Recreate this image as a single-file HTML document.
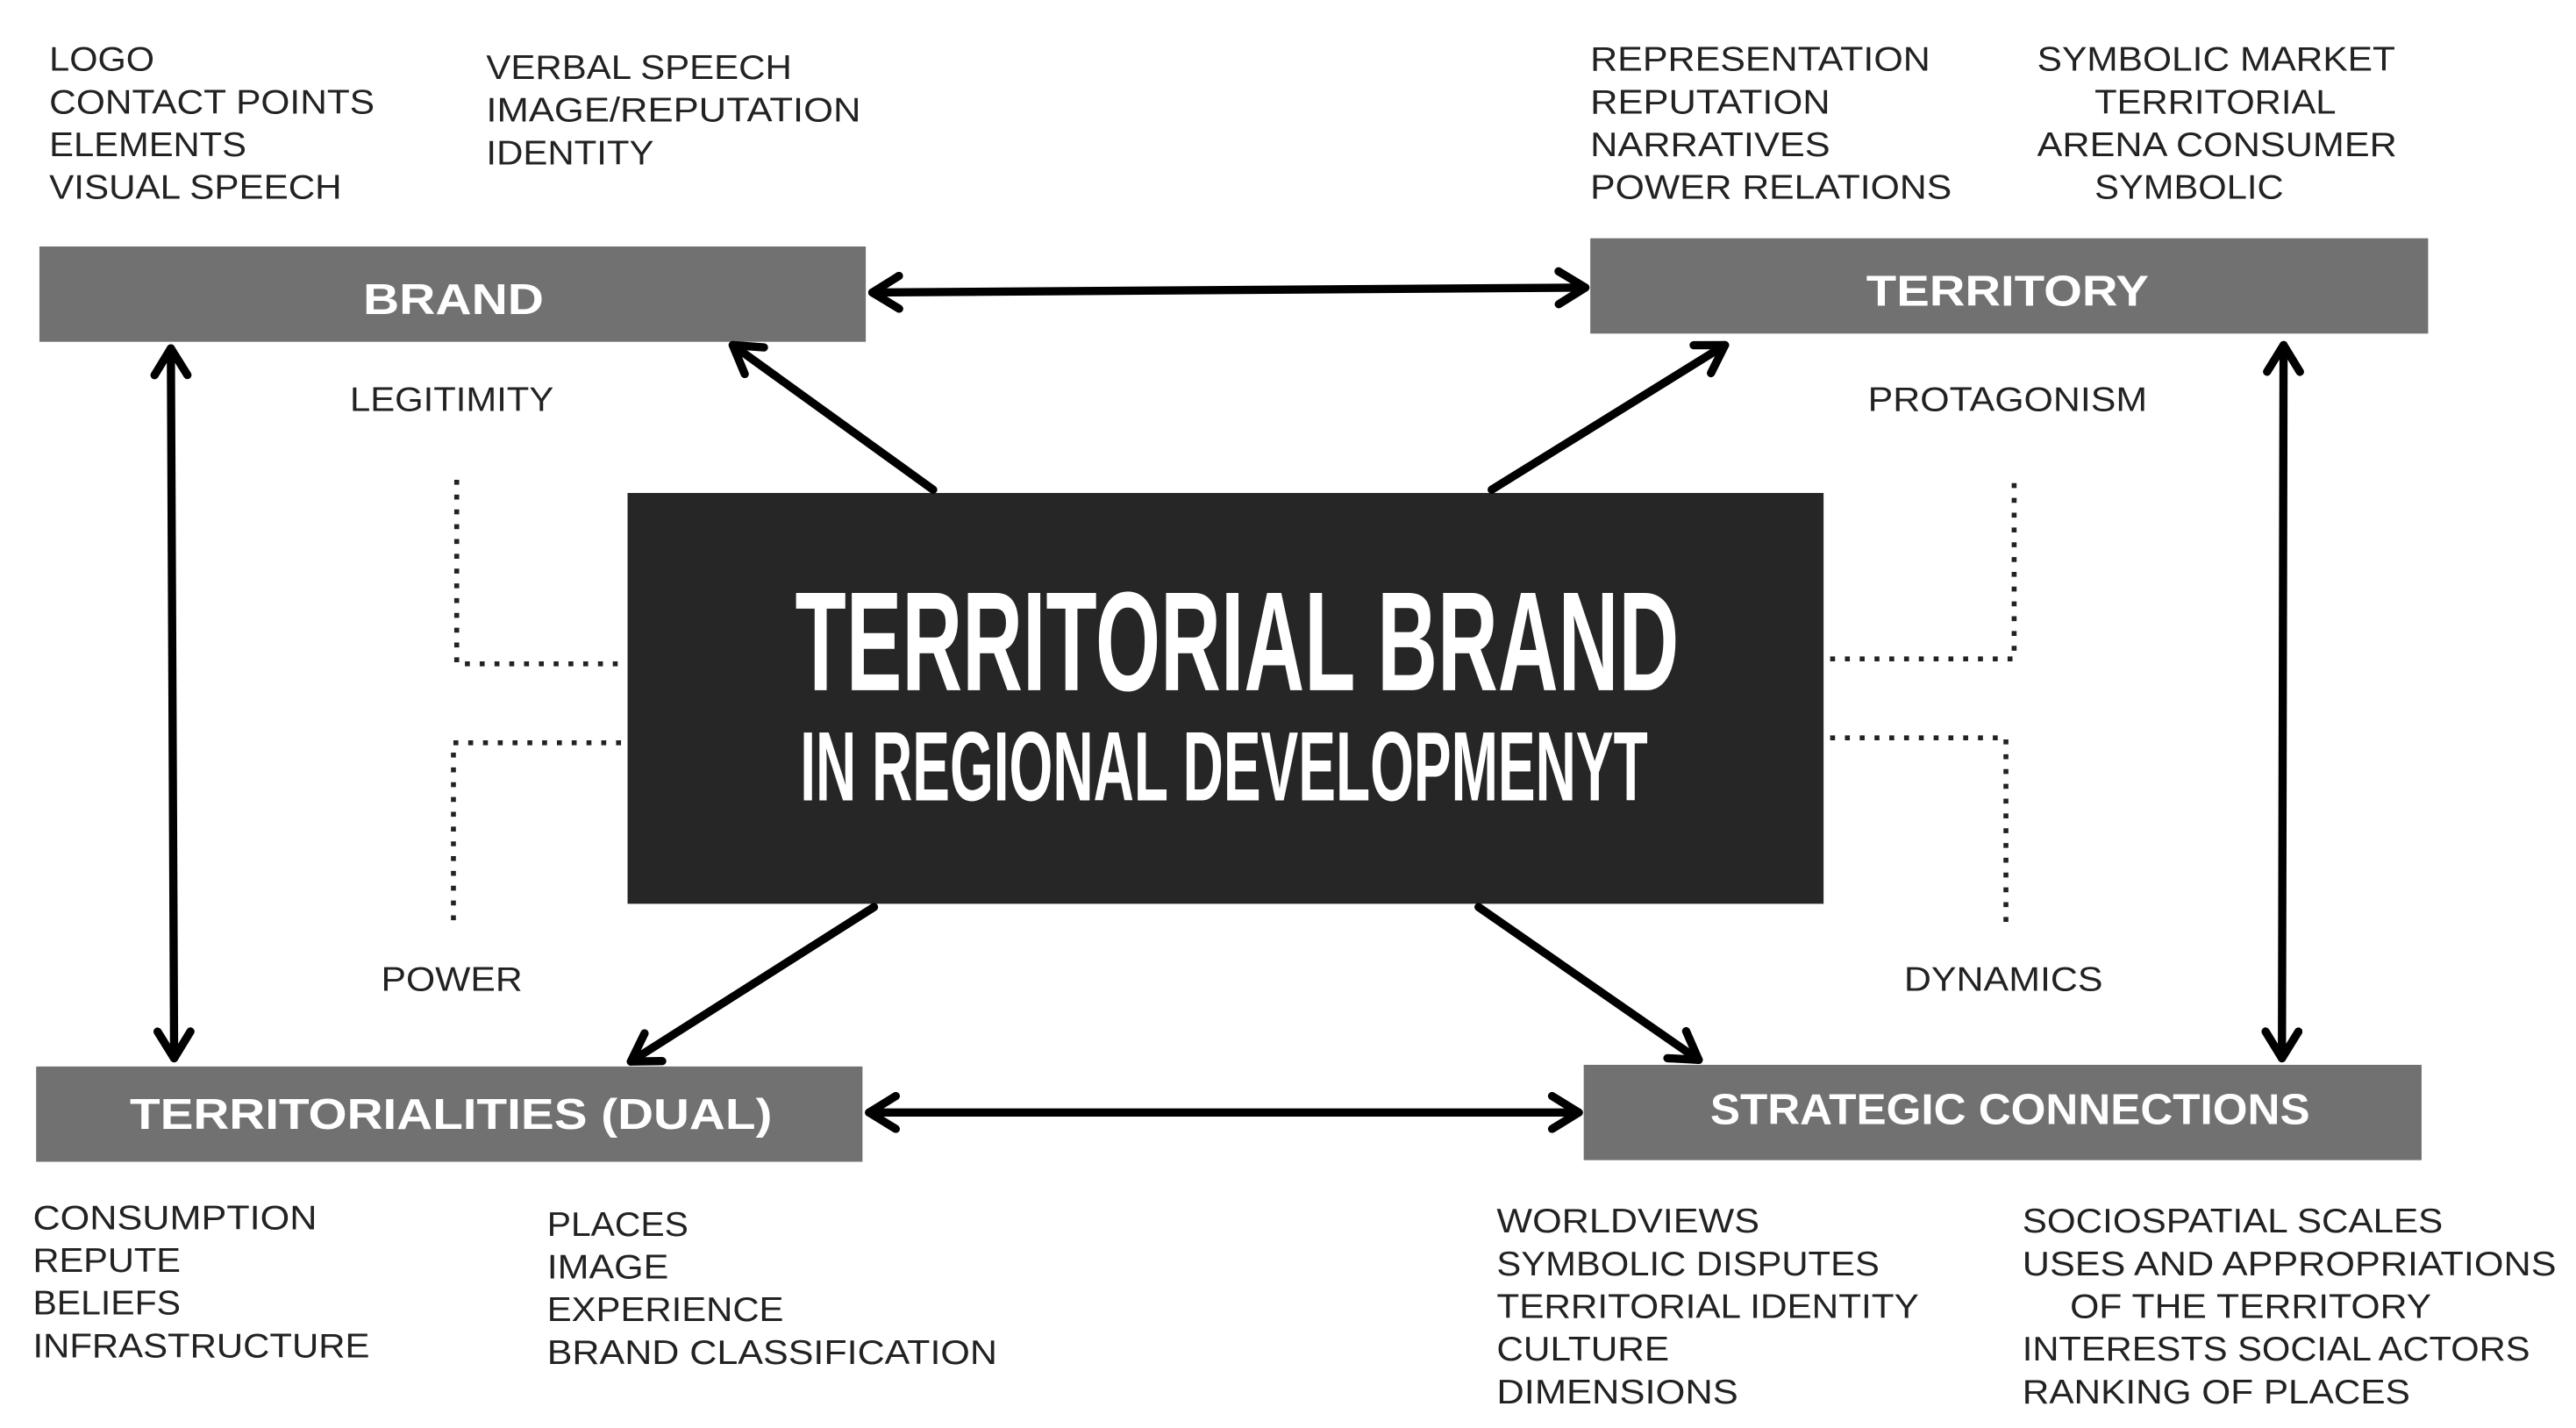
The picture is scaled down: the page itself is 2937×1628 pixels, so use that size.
<!DOCTYPE html>
<html><head><meta charset="utf-8"><style>
html,body{margin:0;padding:0;background:#fff;}
svg{display:block;}
.t{font-family:"Liberation Sans",sans-serif;font-size:21px;fill:#222;}
.b{font-family:"Liberation Sans",sans-serif;font-size:26px;font-weight:bold;fill:#fff;}
.c{font-family:"Liberation Sans",sans-serif;font-weight:bold;fill:#fff;}
</style></head><body>
<svg width="2937" height="1628" viewBox="0 0 1568 869" preserveAspectRatio="none">
<defs>
<marker id="a" viewBox="0 0 20 20" refX="17" refY="10" markerWidth="5" markerHeight="5" orient="auto-start-reverse" markerUnits="strokeWidth">
<polyline points="4,2 17,10 4,18" fill="none" stroke="#000" stroke-width="4" stroke-linecap="round" stroke-linejoin="round"/>
</marker>
</defs>
<rect x="24" y="150" width="503" height="58" fill="#717171"/>
<rect x="968" y="145" width="510" height="58" fill="#717171"/>
<rect x="22" y="649" width="503" height="58" fill="#717171"/>
<rect x="964" y="648" width="510" height="58" fill="#717171"/>
<rect x="382" y="300" width="728" height="250" fill="#262626"/>

<g stroke="#000" stroke-width="5" fill="none" stroke-linecap="round">
<line x1="531" y1="178" x2="965" y2="175" marker-start="url(#a)" marker-end="url(#a)"/>
<line x1="529" y1="677" x2="961" y2="677" marker-start="url(#a)" marker-end="url(#a)"/>
<line x1="104" y1="212" x2="106" y2="644" marker-start="url(#a)" marker-end="url(#a)"/>
<line x1="1390" y1="210" x2="1389" y2="644" marker-start="url(#a)" marker-end="url(#a)"/>
<line x1="568" y1="298" x2="446" y2="210" marker-end="url(#a)"/>
<line x1="908" y1="298" x2="1050" y2="210" marker-end="url(#a)"/>
<line x1="532" y1="552" x2="384" y2="646" marker-end="url(#a)"/>
<line x1="900" y1="552" x2="1034" y2="645" marker-end="url(#a)"/>
</g>
<g stroke="#222" stroke-width="3" fill="none" stroke-dasharray="3,6">
<polyline points="278,292 278,404 378,404"/>
<polyline points="378,452 276,452 276,560"/>
<polyline points="1114,401 1226,401 1226,292"/>
<polyline points="1114,449 1221,449 1221,563"/>
</g>

<text class="b" x="221" y="191" textLength="110" lengthAdjust="spacingAndGlyphs">BRAND</text>
<text class="b" x="1136" y="186" textLength="172" lengthAdjust="spacingAndGlyphs">TERRITORY</text>
<text class="b" x="79" y="687" textLength="391" lengthAdjust="spacingAndGlyphs">TERRITORIALITIES (DUAL)</text>
<text class="b" x="1041" y="684" textLength="365" lengthAdjust="spacingAndGlyphs">STRATEGIC CONNECTIONS</text>

<text class="c" x="484" y="420" font-size="86" textLength="538" lengthAdjust="spacingAndGlyphs">TERRITORIAL BRAND</text>
<text class="c" x="487" y="487" font-size="60" textLength="516" lengthAdjust="spacingAndGlyphs">IN REGIONAL DEVELOPMENYT</text>

<g class="t">
<text class="t" x="30" y="43" textLength="64" lengthAdjust="spacingAndGlyphs">LOGO</text>
<text class="t" x="30" y="69" textLength="198" lengthAdjust="spacingAndGlyphs">CONTACT POINTS</text>
<text class="t" x="30" y="95" textLength="120" lengthAdjust="spacingAndGlyphs">ELEMENTS</text>
<text class="t" x="30" y="121" textLength="178" lengthAdjust="spacingAndGlyphs">VISUAL SPEECH</text>
<text class="t" x="296" y="48" textLength="186" lengthAdjust="spacingAndGlyphs">VERBAL SPEECH</text>
<text class="t" x="296" y="74" textLength="228" lengthAdjust="spacingAndGlyphs">IMAGE/REPUTATION</text>
<text class="t" x="296" y="100" textLength="102" lengthAdjust="spacingAndGlyphs">IDENTITY</text>
<text class="t" x="968" y="43" textLength="207" lengthAdjust="spacingAndGlyphs">REPRESENTATION</text>
<text class="t" x="968" y="69" textLength="146" lengthAdjust="spacingAndGlyphs">REPUTATION</text>
<text class="t" x="968" y="95" textLength="146" lengthAdjust="spacingAndGlyphs">NARRATIVES</text>
<text class="t" x="968" y="121" textLength="220" lengthAdjust="spacingAndGlyphs">POWER RELATIONS</text>
<text class="t" x="1240" y="43" textLength="218" lengthAdjust="spacingAndGlyphs">SYMBOLIC MARKET</text>
<text class="t" x="1275" y="69" textLength="147" lengthAdjust="spacingAndGlyphs">TERRITORIAL</text>
<text class="t" x="1240" y="95" textLength="219" lengthAdjust="spacingAndGlyphs">ARENA CONSUMER</text>
<text class="t" x="1275" y="121" textLength="115" lengthAdjust="spacingAndGlyphs">SYMBOLIC</text>
<text class="t" x="213" y="250" textLength="124" lengthAdjust="spacingAndGlyphs">LEGITIMITY</text>
<text class="t" x="1137" y="250" textLength="170" lengthAdjust="spacingAndGlyphs">PROTAGONISM</text>
<text class="t" x="232" y="603" textLength="86" lengthAdjust="spacingAndGlyphs">POWER</text>
<text class="t" x="1159" y="603" textLength="121" lengthAdjust="spacingAndGlyphs">DYNAMICS</text>
<text class="t" x="20" y="748" textLength="173" lengthAdjust="spacingAndGlyphs">CONSUMPTION</text>
<text class="t" x="20" y="774" textLength="90" lengthAdjust="spacingAndGlyphs">REPUTE</text>
<text class="t" x="20" y="800" textLength="90" lengthAdjust="spacingAndGlyphs">BELIEFS</text>
<text class="t" x="20" y="826" textLength="205" lengthAdjust="spacingAndGlyphs">INFRASTRUCTURE</text>
<text class="t" x="333" y="752" textLength="86" lengthAdjust="spacingAndGlyphs">PLACES</text>
<text class="t" x="333" y="778" textLength="74" lengthAdjust="spacingAndGlyphs">IMAGE</text>
<text class="t" x="333" y="804" textLength="144" lengthAdjust="spacingAndGlyphs">EXPERIENCE</text>
<text class="t" x="333" y="830" textLength="274" lengthAdjust="spacingAndGlyphs">BRAND CLASSIFICATION</text>
<text class="t" x="911" y="750" textLength="160" lengthAdjust="spacingAndGlyphs">WORLDVIEWS</text>
<text class="t" x="911" y="776" textLength="233" lengthAdjust="spacingAndGlyphs">SYMBOLIC DISPUTES</text>
<text class="t" x="911" y="802" textLength="257" lengthAdjust="spacingAndGlyphs">TERRITORIAL IDENTITY</text>
<text class="t" x="911" y="828" textLength="105" lengthAdjust="spacingAndGlyphs">CULTURE</text>
<text class="t" x="911" y="854" textLength="147" lengthAdjust="spacingAndGlyphs">DIMENSIONS</text>
<text class="t" x="1231" y="750" textLength="256" lengthAdjust="spacingAndGlyphs">SOCIOSPATIAL SCALES</text>
<text class="t" x="1231" y="776" textLength="325" lengthAdjust="spacingAndGlyphs">USES AND APPROPRIATIONS</text>
<text class="t" x="1260" y="802" textLength="220" lengthAdjust="spacingAndGlyphs">OF THE  TERRITORY</text>
<text class="t" x="1231" y="828" textLength="309" lengthAdjust="spacingAndGlyphs">INTERESTS SOCIAL ACTORS</text>
<text class="t" x="1231" y="854" textLength="236" lengthAdjust="spacingAndGlyphs">RANKING OF PLACES</text>
</g>
</svg>
</body></html>
